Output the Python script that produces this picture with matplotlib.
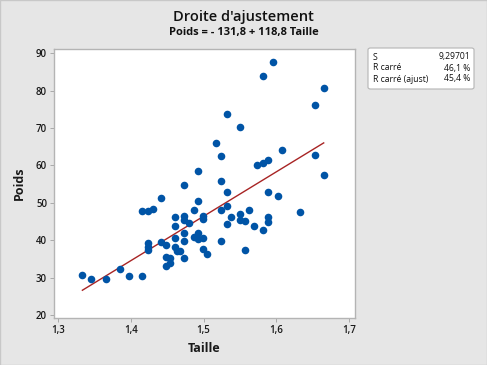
import matplotlib
matplotlib.use("Agg")
import matplotlib.pyplot as plt
from matplotlib.patches import FancyBboxPatch, Rectangle
import numpy as np

taille = [1.3335, 1.346, 1.366, 1.385, 1.397, 1.416, 1.416, 1.424, 1.430, 1.442,
          1.423, 1.423, 1.423, 1.442, 1.449, 1.449, 1.449, 1.454, 1.454, 1.461,
          1.461, 1.461, 1.461, 1.463, 1.467, 1.473, 1.473, 1.473, 1.473, 1.473,
          1.473, 1.480, 1.487, 1.487, 1.493, 1.493, 1.493, 1.493, 1.4995, 1.4995,
          1.4995, 1.4995, 1.505, 1.5175, 1.524, 1.524, 1.524, 1.524, 1.5315, 1.5315,
          1.5315, 1.5315, 1.538, 1.5497, 1.550, 1.550, 1.557, 1.557, 1.5625, 1.569,
          1.5735, 1.5818, 1.5815, 1.582, 1.5887, 1.5887, 1.5887, 1.5887, 1.5953, 1.6016,
          1.6075, 1.632, 1.6524, 1.6524, 1.665, 1.665]
poids = [30.8, 29.6, 29.7, 32.3, 30.4, 30.3, 47.9, 47.8, 48.3, 51.3,
         39.2, 38.2, 37.3, 39.4, 38.8, 35.4, 33.0, 35.2, 33.9, 46.1,
         43.8, 40.6, 38.3, 37.2, 37.2, 54.7, 46.5, 45.4, 41.9, 39.9,
         35.2, 44.7, 48.1, 40.8, 58.5, 50.6, 42.0, 40.4, 46.5, 45.6,
         40.5, 37.7, 36.3, 66.1, 62.6, 55.7, 48.0, 39.8, 73.6, 53.0,
         49.2, 44.4, 46.3, 70.2, 47.1, 45.3, 45.0, 37.4, 48.2, 43.9,
         60.0, 84.0, 42.8, 60.6, 61.5, 52.8, 46.1, 44.8, 87.6, 51.9,
         64.0, 47.4, 76.0, 62.7, 80.8, 57.5]

intercept = -131.8
slope = 118.8

x_ticks = [1.3, 1.4, 1.5, 1.6, 1.7]
x_tick_labels = ["1,3", "1,4", "1,5", "1,6", "1,7"]
y_ticks = [20, 30, 40, 50, 60, 70, 80, 90]

stat_names = ["S", "R carré", "R carré (ajust)"]
stat_values = ["9,29701", "46,1 %", "45,4 %"]

plt.rcParams['font.family'] = ['Open Sans', 'DejaVu Sans']

fig = plt.figure(figsize=(4.87, 3.65), dpi=100)
fig.patch.set_facecolor('#e6e6e6')
fig.patches.append(Rectangle((0, 0), 1, 1, transform=fig.transFigure,
                             fill=False, edgecolor='#c8c8c8', linewidth=1.0))

ax = fig.add_axes([54/487, 1-318/365, (355-54)/487, (318-49)/365])
ax.set_facecolor('white')

ax.scatter(taille, poids, s=30, color='#0054a6', zorder=3, linewidths=0)
xl = np.array([min(taille), max(taille)])
ax.plot(xl, intercept + slope * xl, color='#a82424', linewidth=1.0, zorder=2)

ax.set_xlim(1.2945, 1.708)
ax.set_ylim(19.2, 91.1)
ax.set_xticks(x_ticks)
ax.set_xticklabels(x_tick_labels)
ax.set_yticks(y_ticks)
ax.tick_params(axis='both', labelsize=7, length=3, width=0.6, color='#a0a0a0',
               labelcolor='#1a1a1a', pad=2)
for lab in ax.get_xticklabels() + ax.get_yticklabels():
    lab.set_fontweight('semibold')
for sp in ax.spines.values():
    sp.set_color('#b4b4b4')
    sp.set_linewidth(1.0)

ax.set_xlabel("Taille", fontsize=9, fontweight='bold', color='#1a1a1a', labelpad=4)
ax.set_ylabel("Poids", fontsize=9, fontweight='bold', color='#1a1a1a', labelpad=7)

fig.text(243.5/487, 1-17/365, "Droite d'ajustement", ha='center', va='center',
         fontsize=10.5, color='#111111', fontweight='semibold')
fig.text(243.5/487, 1-33/365, "Poids = - 131,8 + 118,8 Taille", ha='center', va='center',
         fontsize=8, color='#111111', fontweight='bold')

# stats box
bx0, by0, bx1, by1 = 368, 48, 474, 89
box = FancyBboxPatch((bx0/487, 1-by1/365), (bx1-bx0)/487, (by1-by0)/365,
                     boxstyle="round,pad=0,rounding_size=0.005",
                     transform=fig.transFigure, facecolor='white',
                     edgecolor='#b4b4b4', linewidth=0.8)
fig.patches.append(box)
for i, (n, v) in enumerate(zip(stat_names, stat_values)):
    yy = 1 - (57 + i*11)/365
    fig.text(373/487, yy, n, ha='left', va='center', fontsize=6.2, color='#111111')
    fig.text(470/487, yy, v, ha='right', va='center', fontsize=6.2, color='#111111')

fig.savefig("out.png", dpi=100, facecolor=fig.get_facecolor())
